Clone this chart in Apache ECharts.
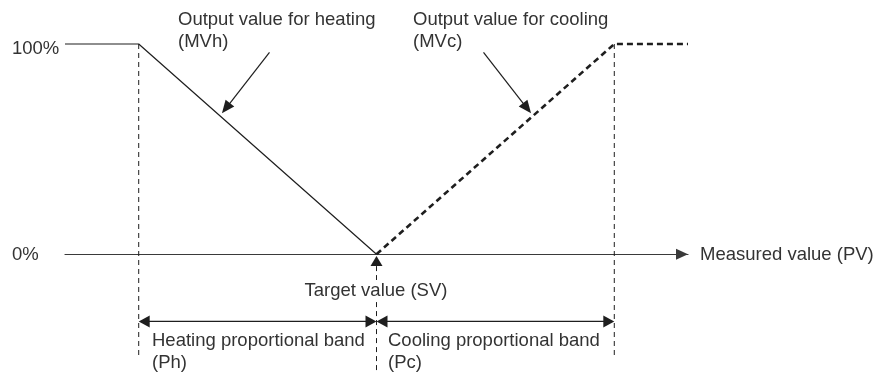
<!DOCTYPE html>
<html>
<head>
<meta charset="utf-8">
<script src="https://cdn.jsdelivr.net/npm/echarts@6/dist/echarts.min.js"></script>
<style>html,body{margin:0;padding:0;background:#fff}#c{width:877px;height:374px}</style>
</head>
<body>
<div id="c"></div>
<script>
// ---- data (x: deviation of measured value from SV, Ph = Pc = 100 units; y: output %) ----
const heatingOutput = [[-131, 100], [-100, 100], [0, 0]];
const coolingOutput = [[0, 0], [100, 100], [131, 100]];
const yTickValues = [0, 100];
const yTickLabels = ['0%', '100%'];
// vertical guides: [x, yTop, yBottom]
const bandGuides = [[-100, 100, -49], [100, 100, -49]];
// SV marker: [x, tipY, bottomY]
const svMarker = [[0, -0.9, -57]];
// band dimension arrows: [xFrom, xTo, y]
const bandArrows = [[-100, 0, -32], [0, 100, -32]];
// label pointers: [xFrom, yFrom, xTo, yTo]
const pointerArrows = [[-45, 96, -65, 67], [45, 96, 65, 67]];
const labelTexts = {
  heat: 'Output value for heating\n(MVh)',
  cool: 'Output value for cooling\n(MVc)',
  sv: 'Target value (SV)',
  ph: 'Heating proportional band\n(Ph)',
  pc: 'Cooling proportional band\n(Pc)',
  pv: 'Measured value (PV)'
};

const FONT = '"Liberation Sans", Arial, sans-serif';
const FS = 18.5;
const TXT = '#333';
const LINE = '#1e1e1e';

function head(tip, from, len, hw) {
  const dx = tip[0] - from[0], dy = tip[1] - from[1];
  const d = Math.hypot(dx, dy) || 1;
  const ux = dx / d, uy = dy / d, nx = -uy, ny = ux;
  const bx = tip[0] - ux * len, by = tip[1] - uy * len;
  return {
    type: 'polygon',
    shape: { points: [tip, [bx + nx * hw, by + ny * hw], [bx - nx * hw, by - ny * hw]] },
    style: { fill: LINE }
  };
}

const chart = echarts.init(document.getElementById('c'), null, { renderer: 'canvas' });
chart.setOption({
  animation: false,
  backgroundColor: '#fff',
  grid: { left: 65, right: 189, top: 44, bottom: 0, containLabel: false },
  xAxis: {
    type: 'value', min: -131, max: 131,
    axisLine: { show: true, onZero: true, symbol: ['none', 'triangle'], symbolSize: [11, 12], symbolOffset: [0, -6],
      lineStyle: { color: '#3a3a3a', width: 1.2 } },
    axisTick: { show: false }, axisLabel: { show: false }, splitLine: { show: false }
  },
  yAxis: {
    type: 'value', min: -57, max: 100,
    axisLine: { show: false }, axisTick: { show: false }, splitLine: { show: false },
    axisLabel: {
      customValues: yTickValues,
      formatter: v => {
        const i = yTickValues.indexOf(v);
        return v === 100 ? '{hi|' + yTickLabels[i] + '}' : '{lo|' + yTickLabels[i] + '}';
      },
      align: 'left', margin: 53,
      rich: {
        hi: { fontSize: FS, fontFamily: FONT, color: TXT, padding: [9, 0, 0, 0] },
        lo: { fontSize: FS, fontFamily: FONT, color: TXT, padding: [2, 0, 0, 0] }
      }
    }
  },
  series: [
    { type: 'line', data: heatingOutput, showSymbol: false, clip: false,
      lineStyle: { color: LINE, width: 1.2 }, z: 3 },
    { type: 'line', data: coolingOutput, showSymbol: false, clip: false,
      lineStyle: { color: LINE, width: 2.6, type: [6, 4] }, z: 3 },
    { type: 'custom', data: bandGuides, z: 2,
      renderItem: (p, api) => {
        const a = api.coord([api.value(0), api.value(1)]);
        const b = api.coord([api.value(0), api.value(2)]);
        return { type: 'line', shape: { x1: a[0], y1: a[1], x2: b[0], y2: b[1] },
          style: { stroke: LINE, lineWidth: 1, lineDash: [5, 4] } };
      } },
    { type: 'custom', data: svMarker, z: 2,
      renderItem: (p, api) => {
        const tip = api.coord([api.value(0), api.value(1)]);
        const bot = api.coord([api.value(0), api.value(2)]);
        return { type: 'group', children: [
          { type: 'line', shape: { x1: tip[0], y1: tip[1] + 10, x2: bot[0], y2: bot[1] },
            style: { stroke: LINE, lineWidth: 1, lineDash: [5, 4] } },
          head(tip, bot, 10, 6)
        ] };
      } },
    { type: 'custom', data: bandArrows, z: 3,
      renderItem: (p, api) => {
        const a = api.coord([api.value(0), api.value(2)]);
        const b = api.coord([api.value(1), api.value(2)]);
        return { type: 'group', children: [
          { type: 'line', shape: { x1: a[0] + 8, y1: a[1], x2: b[0] - 8, y2: b[1] },
            style: { stroke: LINE, lineWidth: 1.2 } },
          head(a, b, 11, 6), head(b, a, 11, 6)
        ] };
      } },
    { type: 'custom', data: pointerArrows, z: 3,
      renderItem: (p, api) => {
        const a = api.coord([api.value(0), api.value(1)]);
        const b = api.coord([api.value(2), api.value(3)]);
        const d = Math.hypot(b[0] - a[0], b[1] - a[1]);
        const e = [b[0] - (b[0] - a[0]) / d * 9, b[1] - (b[1] - a[1]) / d * 9];
        return { type: 'group', children: [
          { type: 'line', shape: { x1: a[0], y1: a[1], x2: e[0], y2: e[1] },
            style: { stroke: LINE, lineWidth: 1.2 } },
          head(b, a, 13, 5.5)
        ] };
      } }
  ],
  graphic: [
    { type: 'text', x: 178, y: 9, z: 100, style: { text: labelTexts.heat, fontSize: FS, fontFamily: FONT, fill: TXT, lineHeight: 22 } },
    { type: 'text', x: 413, y: 9, z: 100, style: { text: labelTexts.cool, fontSize: FS, fontFamily: FONT, fill: TXT, lineHeight: 22 } },
    { type: 'text', x: 376, y: 280, z: 100, style: { text: labelTexts.sv, fontSize: FS, fontFamily: FONT, fill: TXT, lineHeight: 22, align: 'center', backgroundColor: '#fff', padding: [0, 2] } },
    { type: 'text', x: 152, y: 330, z: 100, style: { text: labelTexts.ph, fontSize: FS, fontFamily: FONT, fill: TXT, lineHeight: 22 } },
    { type: 'text', x: 388, y: 330, z: 100, style: { text: labelTexts.pc, fontSize: FS, fontFamily: FONT, fill: TXT, lineHeight: 22 } },
    { type: 'text', x: 700, y: 244, z: 100, style: { text: labelTexts.pv, fontSize: FS, fontFamily: FONT, fill: TXT, lineHeight: 22 } }
  ]
});
</script>
</body>
</html>
